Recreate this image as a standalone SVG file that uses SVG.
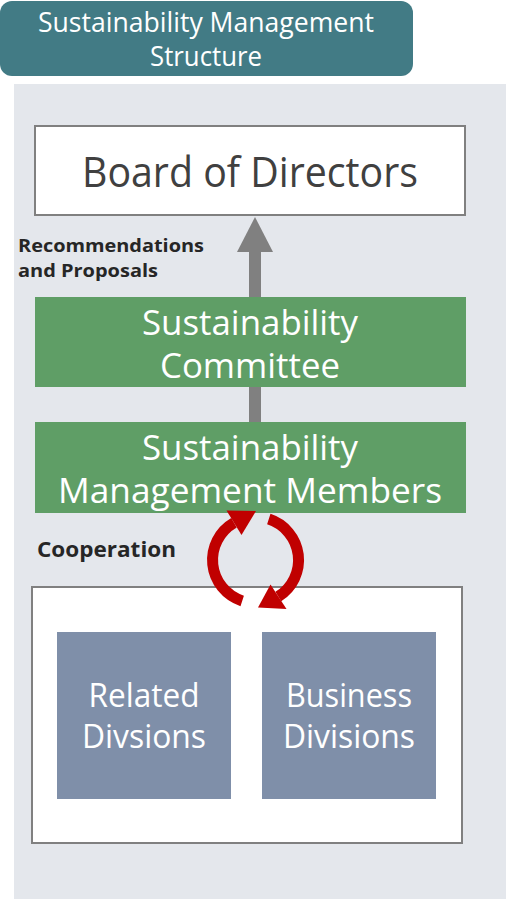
<svg xmlns="http://www.w3.org/2000/svg" width="506" height="899" viewBox="0 0 506 899">
<style>
text{font-family:"Open Sans","Noto Sans","DejaVu Sans",sans-serif}
.w{fill:#ffffff}
.green{fill:#5F9E66}
.blue{fill:#7F8FA9}
.frame{fill:#ffffff;stroke:#808080;stroke-width:2}
.lbl{font-weight:bold;fill:#262626}
.cyc{fill:none;stroke:#C00000;stroke-width:11}
.head{fill:#C00000}
</style>
<g id="title">
<rect x="0" y="1" width="413" height="75" rx="12" ry="12" fill="#427B85"/>
<text x="206" y="32" font-size="27" text-anchor="middle" class="w" textLength="336" lengthAdjust="spacingAndGlyphs">Sustainability Management</text>
<text x="206" y="66" font-size="27" text-anchor="middle" class="w" textLength="112" lengthAdjust="spacingAndGlyphs">Structure</text>
</g>
<rect id="panel" x="14" y="84" width="492" height="815" fill="#E4E7EC"/>
<g id="board">
<rect x="35" y="126" width="430" height="89" class="frame"/>
<text x="250" y="187" font-size="42" text-anchor="middle" fill="#404040" textLength="336" lengthAdjust="spacingAndGlyphs">Board of Directors</text>
</g>
<g id="label-recommendations">
<text x="18" y="252" font-size="18" class="lbl" textLength="186" lengthAdjust="spacingAndGlyphs">Recommendations</text>
<text x="18" y="277" font-size="18" class="lbl" textLength="140" lengthAdjust="spacingAndGlyphs">and Proposals</text>
</g>
<g id="committee">
<rect x="35" y="297" width="431" height="90" class="green"/>
<text x="250" y="335" font-size="34" text-anchor="middle" class="w" textLength="216" lengthAdjust="spacingAndGlyphs">Sustainability</text>
<text x="250" y="378" font-size="34" text-anchor="middle" class="w" textLength="180" lengthAdjust="spacingAndGlyphs">Committee</text>
</g>
<g id="members">
<rect x="35" y="422" width="431" height="91" class="green"/>
<text x="250" y="460" font-size="34" text-anchor="middle" class="w" textLength="216" lengthAdjust="spacingAndGlyphs">Sustainability</text>
<text x="250" y="503" font-size="34" text-anchor="middle" class="w" textLength="384" lengthAdjust="spacingAndGlyphs">Management Members</text>
</g>
<g id="label-cooperation">
<text x="37" y="557" font-size="21" class="lbl" textLength="139" lengthAdjust="spacingAndGlyphs">Cooperation</text>
</g>
<g id="divisions-group">
<rect x="32" y="587" width="430" height="256" class="frame"/>
</g>
<g id="related">
<rect x="57" y="632" width="174" height="167" class="blue"/>
<text x="144" y="707" font-size="32" text-anchor="middle" class="w" textLength="111" lengthAdjust="spacingAndGlyphs">Related</text>
<text x="144" y="748" font-size="32" text-anchor="middle" class="w" textLength="124" lengthAdjust="spacingAndGlyphs">Divsions</text>
</g>
<g id="business">
<rect x="262" y="632" width="174" height="167" class="blue"/>
<text x="349" y="707" font-size="32" text-anchor="middle" class="w" textLength="126" lengthAdjust="spacingAndGlyphs">Business</text>
<text x="349" y="748" font-size="32" text-anchor="middle" class="w" textLength="132" lengthAdjust="spacingAndGlyphs">Divisions</text>
</g>
<g id="connectors">
<rect x="249" y="250" width="12" height="47" fill="#808080"/>
<polygon points="255,217 273,252 237,252" fill="#808080"/>
<rect x="249" y="387" width="12" height="35" fill="#808080"/>
<path class="cyc" d="M 242.2 600.9 A 43 43 0 0 1 234 522.8"/>
<polygon class="head" points="226.5,510.5 256,511 241.5,535"/>
<path class="cyc" d="M 268.8 519.1 A 43 43 0 0 1 278.3 596.5"/>
<polygon class="head" points="286.5,609 258,607.5 270.5,584.5"/>
</g>
</svg>
